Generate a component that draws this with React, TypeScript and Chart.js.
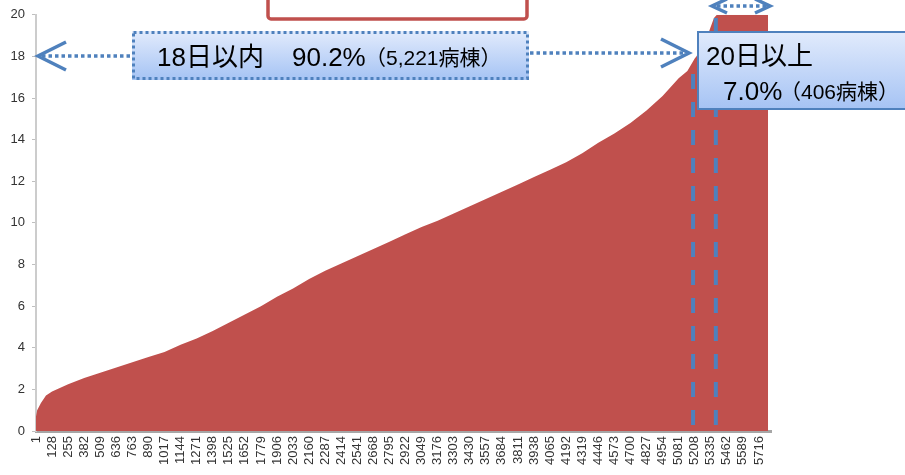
import React, { useEffect, useRef } from "react";
import { Chart, registerables } from "chart.js";

Chart.register(...registerables);

// ward rank (sorted by average stay) and stay days
const wardIndex = [
  1, 10, 40, 80, 128, 255, 382, 509, 636, 763, 890, 1017, 1144, 1271, 1398, 1525, 1652, 1779,
  1906, 2033, 2160, 2287, 2414, 2541, 2668, 2795, 2922, 3049, 3176, 3303, 3430, 3557, 3684,
  3811, 3938, 4065, 4192, 4319, 4446, 4573, 4700, 4827, 4954, 5081, 5150, 5208, 5221, 5280,
  5321, 5360, 5383, 5462, 5589, 5716, 5788,
];
const stayDays = [
  0.7, 1.0, 1.35, 1.7, 1.9, 2.25, 2.55, 2.8, 3.05, 3.3, 3.55, 3.8, 4.15, 4.45, 4.8, 5.2, 5.6, 6.0,
  6.45, 6.85, 7.3, 7.7, 8.05, 8.4, 8.75, 9.1, 9.45, 9.8, 10.1, 10.45, 10.8, 11.15, 11.5,
  11.85, 12.2, 12.55, 12.92, 13.35, 13.85, 14.3, 14.8, 15.4, 16.1, 16.95, 17.3, 17.9, 18.0, 18.6,
  19.2, 19.85, 20, 20, 20, 20, 20,
];
const xTickLabels = [
  1, 128, 255, 382, 509, 636, 763, 890, 1017, 1144, 1271, 1398, 1525, 1652, 1779, 1906, 2033,
  2160, 2287, 2414, 2541, 2668, 2795, 2922, 3049, 3176, 3303, 3430, 3557, 3684, 3811, 3938,
  4065, 4192, 4319, 4446, 4573, 4700, 4827, 4954, 5081, 5208, 5335, 5462, 5589, 5716,
];
const yMin = 0;
const yMax = 20;
const yStep = 2;
const xMin = 1;
const xMax = 5811;

// annotation texts
const leftLabelA = "18日以内";
const leftLabelB = "90.2%";
const leftLabelC = "（5,221病棟）";
const rightLabelA = "20日以上";
const rightLabelB = "7.0%";
const rightLabelC = "（406病棟）";
const divider18 = 5195;
const divider20 = 5375;

const RED = "#c0504d";
const BLUE = "#4f81bd";
const FONT = '"Liberation Sans", "Noto Sans CJK JP", Arial, sans-serif';

function chevron(ctx: CanvasRenderingContext2D, tx: number, ty: number, dx: number, dy: number) {
  ctx.beginPath();
  ctx.moveTo(tx + dx, ty - dy);
  ctx.lineTo(tx, ty);
  ctx.lineTo(tx + dx, ty + dy);
  ctx.stroke();
}

function hLine(ctx: CanvasRenderingContext2D, x1: number, x2: number, y: number) {
  ctx.beginPath();
  ctx.moveTo(x1, y);
  ctx.lineTo(x2, y);
  ctx.stroke();
}

function gradBox(ctx: CanvasRenderingContext2D, x: number, y: number, w: number, h: number) {
  const g = ctx.createLinearGradient(0, y, 0, y + h);
  g.addColorStop(0, "#e2ebfc");
  g.addColorStop(1, "#a5c3f4");
  ctx.fillStyle = g;
  ctx.fillRect(x, y, w, h);
}

const annotationPlugin = {
  id: "wardAnnotations",
  afterDraw(chart: any) {
    const ctx: CanvasRenderingContext2D = chart.ctx;
    const xs = chart.scales.x;
    const ys = chart.scales.y;
    ctx.save();

    // red box at top (partially out of view)
    ctx.fillStyle = "#ffffff";
    ctx.strokeStyle = RED;
    ctx.lineWidth = 3.5;
    ctx.beginPath();
    (ctx as any).roundRect(268, -20, 259, 39, 3);
    ctx.fill();
    ctx.stroke();

    // dashed vertical dividers
    const xa = xs.getPixelForValue(divider18);
    const xb = xs.getPixelForValue(divider20);
    const yBase = ys.getPixelForValue(0) - 5;
    ctx.strokeStyle = BLUE;
    ctx.lineWidth = 4;
    ctx.setLineDash([15, 13]);
    ctx.beginPath();
    ctx.moveTo(xa, 74);
    ctx.lineTo(xa, yBase);
    ctx.moveTo(xb, 18);
    ctx.lineTo(xb, yBase);
    ctx.stroke();

    // dotted connectors
    ctx.setLineDash([3.5, 3]);
    ctx.lineWidth = 3.5;
    hLine(ctx, 42, 132, 56);
    hLine(ctx, 530, 686, 53);
    hLine(ctx, 717, 766, 6);
    ctx.setLineDash([]);
    ctx.lineWidth = 3.5;
    ctx.lineCap = "butt";
    chevron(ctx, 38, 56, 28, 14);
    chevron(ctx, 689, 53, -28, 14);
    chevron(ctx, 712, 6, 15, 7);
    chevron(ctx, 770, 6, -15, 7);

    // box 1 (dotted border)
    gradBox(ctx, 132, 31, 397, 49);
    ctx.strokeStyle = BLUE;
    ctx.lineWidth = 3;
    ctx.setLineDash([3, 3]);
    ctx.strokeRect(133.5, 32.5, 394, 46);
    ctx.setLineDash([]);

    ctx.fillStyle = "#000";
    ctx.textBaseline = "alphabetic";
    ctx.textAlign = "left";
    ctx.font = `26px ${FONT}`;
    ctx.fillText(leftLabelA, 157, 66);
    ctx.fillText(leftLabelB, 292, 66);
    ctx.font = `21px ${FONT}`;
    ctx.fillText(leftLabelC, 365, 65);

    // box 2 (solid border)
    gradBox(ctx, 697, 31, 215, 79);
    ctx.strokeStyle = BLUE;
    ctx.lineWidth = 2;
    ctx.strokeRect(698, 32, 215, 77);
    ctx.fillStyle = "#000";
    ctx.font = `26px ${FONT}`;
    ctx.fillText(rightLabelA, 706, 65);
    ctx.fillText(rightLabelB, 723, 100);
    ctx.font = `21px ${FONT}`;
    ctx.fillText(rightLabelC, 780, 99);

    ctx.restore();
  },
};

export default function App() {
  const canvasRef = useRef<HTMLCanvasElement | null>(null);

  useEffect(() => {
    if (!canvasRef.current) return;
    const points = wardIndex.map((x, i) => ({ x, y: stayDays[i] }));
    const chart = new Chart(canvasRef.current, {
      type: "line",
      data: {
        datasets: [
          {
            data: points,
            fill: "origin",
            backgroundColor: RED,
            borderColor: RED,
            borderWidth: 0,
            pointRadius: 0,
            tension: 0,
          },
        ],
      },
      options: {
        animation: false,
        responsive: false,
        devicePixelRatio: 1,
        layout: { padding: { top: 10, right: 134, left: 0, bottom: 0 } },
        plugins: { legend: { display: false }, tooltip: { enabled: false } },
        scales: {
          x: {
            type: "linear",
            min: xMin,
            max: xMax,
            afterBuildTicks: (scale: any) => {
              scale.ticks = xTickLabels.map((v) => ({ value: v }));
            },
            afterFit: (scale: any) => {
              scale.height = 44;
            },
            ticks: {
              autoSkip: false,
              maxRotation: 90,
              minRotation: 90,
              padding: 5,
              color: "#333",
              font: { family: FONT, size: 13 },
              callback: (v: any) => String(v),
            },
            grid: { display: false, drawTicks: false },
            border: { display: true, color: "#a6a6a6", width: 3 },
          },
          y: {
            min: yMin,
            max: yMax,
            afterFit: (scale: any) => {
              scale.width = 36;
            },
            ticks: {
              stepSize: yStep,
              padding: 7,
              color: "#333",
              font: { family: FONT, size: 13 },
            },
            grid: { drawOnChartArea: false, tickLength: 4, color: "#bfbfbf" },
            border: { display: true, color: "#cccccc", width: 2 },
          },
        },
      },
      plugins: [annotationPlugin],
    });
    return () => chart.destroy();
  }, []);

  return (
    <div style={{ position: "fixed", left: 0, top: 0, width: 905, height: 475, background: "#fff" }}>
      <canvas ref={canvasRef} width={905} height={475} style={{ width: 905, height: 475 }} />
    </div>
  );
}
